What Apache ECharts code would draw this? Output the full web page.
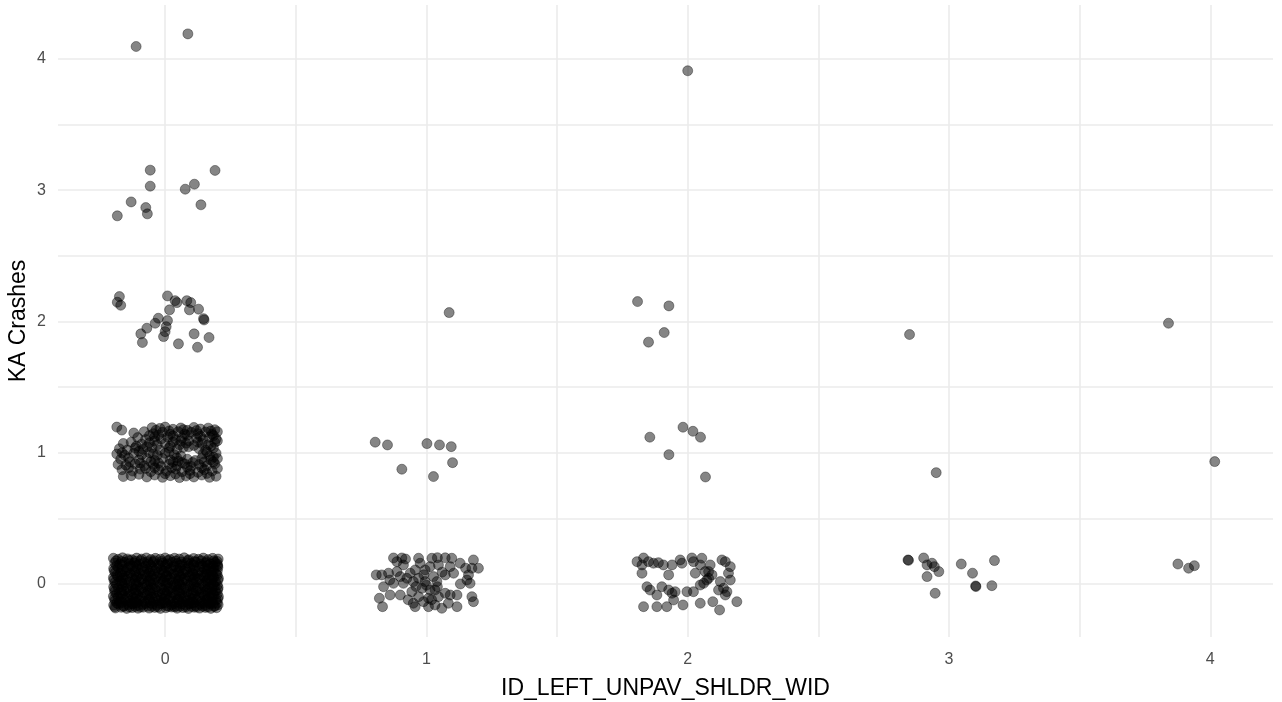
<!DOCTYPE html>
<html><head><meta charset="utf-8">
<script src="https://cdn.jsdelivr.net/npm/echarts@6/dist/echarts.min.js"></script>
<style>html,body{margin:0;padding:0;background:#fff}#c{width:1282px;height:702px}</style>
</head><body><div id="c"></div>
<script>
const xTicks = [0, 1, 2, 3, 4];
const yTicks = [0, 1, 2, 3, 4];
const xGridValues = [0, 0.5, 1, 1.5, 2, 2.5, 3, 3.5, 4];
const yGridValues = [0, 0.5, 1, 1.5, 2, 2.5, 3, 3.5, 4];
const xTitle = "ID_LEFT_UNPAV_SHLDR_WID";
const yTitle = "KA Crashes";

// x = 0, crashes = 0
const ptsX0Y0 = [
[-0.198,0.196],[-0.18,0.188],[-0.163,0.199],[-0.144,0.191],[-0.127,0.185],[-0.109,0.197],[-0.09,0.19],[-0.072,0.198],[-0.055,0.186],[-0.037,0.195],[-0.018,0.189],[0.0,0.198],[0.018,0.187],[0.036,0.196],[0.054,0.19],[0.073,0.199],[0.09,0.185],[0.109,0.194],[0.127,0.188],[0.146,0.197],[0.164,0.186],[0.182,0.195],[0.203,0.19],
[-0.193,0.16],[-0.174,0.152],[-0.155,0.165],[-0.137,0.155],[-0.118,0.161],[-0.1,0.15],[-0.081,0.163],[-0.063,0.154],[-0.046,0.166],[-0.027,0.151],[-0.009,0.16],[0.009,0.153],[0.027,0.165],[0.046,0.156],[0.064,0.149],[0.082,0.162],[0.1,0.155],[0.118,0.167],[0.137,0.151],[0.155,0.16],[0.173,0.153],[0.191,0.164],[0.2,0.15],
[-0.197,0.118],[-0.179,0.126],[-0.16,0.114],[-0.142,0.122],[-0.123,0.131],[-0.105,0.117],[-0.086,0.125],[-0.068,0.113],[-0.05,0.128],[-0.032,0.119],[-0.014,0.11],[0.005,0.124],[0.023,0.116],[0.041,0.129],[0.059,0.12],[0.078,0.112],[0.096,0.127],[0.114,0.118],[0.132,0.13],[0.15,0.115],[0.168,0.123],[0.187,0.111],[0.202,0.127],
[-0.191,0.085],[-0.172,0.078],[-0.154,0.092],[-0.135,0.081],[-0.117,0.088],[-0.098,0.076],[-0.08,0.09],[-0.061,0.083],[-0.043,0.075],[-0.025,0.089],[-0.006,0.08],[0.012,0.093],[0.031,0.077],[0.049,0.087],[0.068,0.079],[0.086,0.092],[0.104,0.082],[0.123,0.074],[0.141,0.088],[0.159,0.08],[0.177,0.091],[0.196,0.077],
[-0.198,0.048],[-0.18,0.055],[-0.161,0.043],[-0.143,0.057],[-0.125,0.046],[-0.107,0.052],[-0.088,0.04],[-0.07,0.058],[-0.052,0.045],[-0.033,0.053],[-0.015,0.041],[0.003,0.056],[0.021,0.047],[0.04,0.039],[0.058,0.054],[0.076,0.044],[0.094,0.058],[0.113,0.049],[0.131,0.041],[0.149,0.055],[0.167,0.046],[0.186,0.052],[0.204,0.043],
[-0.192,0.012],[-0.174,0.02],[-0.156,0.006],[-0.137,0.016],[-0.119,0.003],[-0.1,0.018],[-0.082,0.009],[-0.064,0.022],[-0.045,0.004],[-0.027,0.014],[-0.009,0.021],[0.01,0.007],[0.028,0.017],[0.047,0.002],[0.065,0.013],[0.083,0.021],[0.101,0.008],[0.12,0.016],[0.138,0.003],[0.156,0.019],[0.175,0.01],[0.193,0.018],
[-0.197,-0.022],[-0.179,-0.03],[-0.16,-0.017],[-0.142,-0.027],[-0.123,-0.034],[-0.105,-0.019],[-0.086,-0.028],[-0.068,-0.016],[-0.05,-0.031],[-0.031,-0.023],[-0.013,-0.035],[0.006,-0.02],[0.024,-0.029],[0.042,-0.015],[0.061,-0.026],[0.079,-0.033],[0.097,-0.018],[0.116,-0.027],[0.134,-0.036],[0.152,-0.021],[0.171,-0.03],[0.189,-0.017],[0.203,-0.028],
[-0.193,-0.058],[-0.175,-0.066],[-0.157,-0.053],[-0.138,-0.062],[-0.12,-0.07],[-0.101,-0.056],[-0.083,-0.064],[-0.065,-0.051],[-0.046,-0.068],[-0.028,-0.059],[-0.01,-0.072],[0.009,-0.055],[0.027,-0.063],[0.045,-0.05],[0.064,-0.067],[0.082,-0.06],[0.1,-0.071],[0.119,-0.054],[0.137,-0.065],[0.155,-0.057],[0.174,-0.069],[0.192,-0.052],
[-0.198,-0.094],[-0.18,-0.102],[-0.161,-0.088],[-0.143,-0.097],[-0.124,-0.105],[-0.106,-0.091],[-0.087,-0.099],[-0.069,-0.086],[-0.051,-0.103],[-0.032,-0.093],[-0.014,-0.107],[0.004,-0.09],[0.023,-0.098],[0.041,-0.085],[0.059,-0.101],[0.078,-0.095],[0.096,-0.108],[0.114,-0.089],[0.133,-0.1],[0.151,-0.092],[0.169,-0.104],[0.188,-0.087],[0.204,-0.097],
[-0.192,-0.128],[-0.174,-0.137],[-0.155,-0.122],[-0.137,-0.132],[-0.118,-0.14],[-0.1,-0.125],[-0.082,-0.134],[-0.063,-0.12],[-0.045,-0.138],[-0.026,-0.127],[-0.008,-0.142],[0.011,-0.124],[0.029,-0.133],[0.047,-0.119],[0.066,-0.136],[0.084,-0.129],[0.103,-0.141],[0.121,-0.123],[0.139,-0.134],[0.158,-0.126],[0.176,-0.139],[0.195,-0.121],
[-0.197,-0.161],[-0.178,-0.155],[-0.16,-0.168],[-0.141,-0.158],[-0.123,-0.152],[-0.104,-0.165],[-0.086,-0.157],[-0.067,-0.17],[-0.049,-0.154],[-0.031,-0.163],[-0.012,-0.151],[0.006,-0.166],[0.025,-0.159],[0.043,-0.171],[0.062,-0.153],[0.08,-0.162],[0.098,-0.15],[0.117,-0.167],[0.135,-0.156],[0.154,-0.164],[0.172,-0.152],[0.19,-0.169],[0.203,-0.158],
[-0.19,-0.183],[-0.168,-0.178],[-0.147,-0.186],[-0.126,-0.18],[-0.104,-0.185],[-0.083,-0.177],[-0.061,-0.184],[-0.04,-0.179],[-0.018,-0.186],[0.003,-0.181],[0.025,-0.176],[0.046,-0.185],[0.068,-0.18],[0.089,-0.187],[0.111,-0.178],[0.132,-0.184],[0.154,-0.179],[0.175,-0.186],[0.197,-0.181],
[-0.188,0.176],[-0.166,0.171],[-0.139,0.179],[-0.113,0.173],[-0.094,0.178],[-0.066,0.17],[-0.041,0.177],[-0.013,0.172],[0.011,0.179],[0.04,0.174],[0.062,0.168],[0.087,0.178],[0.113,0.171],[0.139,0.177],[0.158,0.17],[0.186,0.176],[0.199,0.172],
[-0.186,0.139],[-0.163,0.143],[-0.132,0.136],[-0.109,0.141],[-0.077,0.134],[-0.055,0.142],[-0.021,0.137],[0.002,0.144],[0.033,0.135],[0.056,0.14],[0.089,0.133],[0.109,0.142],[0.143,0.136],[0.162,0.141],[0.184,0.134],[0.201,0.139],
[-0.195,0.101],[-0.168,0.097],[-0.147,0.105],[-0.113,0.099],[-0.092,0.104],[-0.057,0.096],[-0.038,0.103],[-0.004,0.098],[0.018,0.106],[0.052,0.1],[0.072,0.095],[0.107,0.103],[0.127,0.097],[0.162,0.105],[0.18,0.099],[0.2,0.102],
[-0.185,0.067],[-0.164,0.062],[-0.131,0.07],[-0.111,0.064],[-0.075,0.068],[-0.056,0.061],[-0.02,0.069],[0.006,0.063],[0.035,0.07],[0.054,0.065],[0.09,0.061],[0.109,0.068],[0.145,0.062],[0.163,0.07],[0.181,0.064],[0.2,0.067],
[-0.196,0.031],[-0.167,0.027],[-0.149,0.034],[-0.114,0.029],[-0.093,0.035],[-0.058,0.026],[-0.039,0.032],[-0.003,0.028],[0.016,0.034],[0.052,0.026],[0.07,0.033],[0.107,0.029],[0.126,0.035],[0.161,0.027],[0.18,0.032],[0.202,0.029],
[-0.186,-0.004],[-0.165,0.001],[-0.13,-0.007],[-0.111,-0.002],[-0.076,-0.008],[-0.055,0.0],[-0.019,-0.005],[0.004,0.001],[0.034,-0.007],[0.055,-0.002],[0.089,-0.008],[0.11,-0.001],[0.145,-0.006],[0.163,0.0],[0.184,-0.004],[0.2,-0.009],
[-0.194,-0.041],[-0.167,-0.045],[-0.148,-0.038],[-0.114,-0.043],[-0.093,-0.037],[-0.057,-0.046],[-0.038,-0.04],[-0.003,-0.044],[0.016,-0.038],[0.053,-0.046],[0.071,-0.039],[0.107,-0.044],[0.125,-0.037],[0.161,-0.045],[0.18,-0.04],[0.201,-0.043],
[-0.186,-0.077],[-0.166,-0.072],[-0.131,-0.08],[-0.112,-0.074],[-0.076,-0.079],[-0.057,-0.073],[-0.02,-0.081],[0.003,-0.075],[0.034,-0.078],[0.054,-0.072],[0.089,-0.08],[0.108,-0.075],[0.144,-0.079],[0.164,-0.073],[0.183,-0.078],[0.2,-0.074],
[-0.194,-0.112],[-0.168,-0.116],[-0.148,-0.11],[-0.113,-0.114],[-0.094,-0.109],[-0.058,-0.117],[-0.037,-0.111],[-0.002,-0.115],[0.017,-0.11],[0.053,-0.118],[0.072,-0.112],[0.106,-0.116],[0.127,-0.11],[0.162,-0.117],[0.181,-0.111],[0.202,-0.114],
[-0.185,-0.146],[-0.165,-0.142],[-0.13,-0.149],[-0.11,-0.144],[-0.075,-0.148],[-0.056,-0.143],[-0.021,-0.15],[0.001,-0.145],[0.035,-0.148],[0.056,-0.142],[0.09,-0.149],[0.109,-0.144],[0.146,-0.147],[0.165,-0.143],[0.184,-0.148],[0.199,-0.144],
[-0.193,-0.174],[-0.158,-0.171],[-0.136,-0.175],[-0.114,-0.172],[-0.094,-0.176],[-0.051,-0.172],[-0.028,-0.175],[0.014,-0.171],[0.035,-0.174],[0.057,-0.17],[0.079,-0.175],[0.1,-0.172],[0.121,-0.176],[0.143,-0.171],[0.164,-0.175],[0.186,-0.172]
];

// x = 0, crashes = 1
const ptsX0Y1 = [
[-0.185,1.195],[-0.166,1.172],[-0.05,1.19],[-0.02,1.185],[0.0,1.195],[0.03,1.178],[0.06,1.188],[0.085,1.17],[0.11,1.192],[0.135,1.18],[0.165,1.187],[0.19,1.175],
[-0.12,1.15],[-0.08,1.16],[-0.045,1.145],[-0.01,1.155],[0.02,1.14],[0.05,1.16],[0.075,1.142],[0.1,1.155],[0.125,1.145],[0.155,1.158],[0.18,1.14],[0.2,1.16],
[-0.105,1.115],[-0.075,1.1],[-0.04,1.12],[-0.015,1.105],[0.01,1.118],[0.04,1.1],[0.065,1.112],[0.09,1.09],[0.12,1.11],[0.145,1.1],[0.17,1.118],[0.195,1.105],
[-0.16,1.07],[-0.13,1.08],[-0.09,1.065],[-0.06,1.075],[-0.03,1.06],[0.0,1.07],[0.03,1.082],[0.055,1.06],[0.08,1.072],[0.11,1.055],[0.14,1.07],[0.165,1.06],[0.19,1.078],
[-0.175,1.03],[-0.145,1.02],[-0.115,1.035],[-0.085,1.025],[-0.05,1.04],[-0.02,1.02],[0.015,1.035],[0.045,1.025],[0.07,1.04],[0.13,1.03],[0.155,1.02],[0.185,1.035],
[-0.185,0.99],[-0.155,0.98],[-0.12,0.995],[-0.09,0.985],[-0.06,1.0],[-0.03,0.98],[0.0,0.995],[0.035,0.985],[0.06,0.975],[0.145,0.99],[0.17,0.975],[0.195,0.995],
[-0.17,0.95],[-0.14,0.96],[-0.1,0.945],[-0.07,0.955],[-0.04,0.94],[-0.01,0.955],[0.02,0.945],[0.05,0.935],[0.085,0.95],[0.115,0.94],[0.14,0.955],[0.175,0.945],[0.2,0.955],
[-0.18,0.91],[-0.15,0.905],[-0.115,0.915],[-0.08,0.9],[-0.045,0.91],[-0.015,0.895],[0.015,0.912],[0.045,0.9],[0.075,0.915],[0.1,0.895],[0.13,0.91],[0.16,0.9],[0.19,0.915],
[-0.165,0.87],[-0.125,0.86],[-0.095,0.875],[-0.055,0.855],[-0.025,0.87],[0.005,0.86],[0.04,0.875],[0.065,0.855],[0.095,0.865],[0.125,0.85],[0.15,0.87],[0.18,0.86],
[-0.16,0.818],[-0.13,0.825],[-0.07,0.815],[-0.04,0.83],[-0.01,0.812],[0.02,0.825],[0.055,0.81],[0.08,0.822],[0.11,0.815],[0.14,0.83],[0.17,0.812],[0.195,0.82],
[-0.035,1.17],[0.015,1.165],[0.07,1.175],[0.12,1.168],[0.175,1.165],[-0.06,1.13],[-0.025,1.135],[0.03,1.128],[0.085,1.132],[0.135,1.125],[0.185,1.13],
[-0.11,1.05],[-0.07,1.045],[-0.04,1.09],[0.02,1.05],[0.06,1.09],[0.09,1.045],[0.125,1.08],[0.175,1.05],[0.2,1.09],
[-0.165,1.0],[-0.1,1.01],[-0.045,0.99],[0.015,1.005],[0.045,0.96],[0.16,1.005],[0.185,0.965],
[-0.135,0.93],[-0.095,0.92],[-0.055,0.93],[-0.025,0.92],[0.03,0.93],[0.065,0.925],[0.105,0.925],[0.15,0.93],[0.185,0.93],
[-0.14,0.885],[-0.075,0.88],[-0.04,0.885],[0.025,0.885],[0.085,0.89],[0.14,0.885],[0.2,0.88],
[-0.1,0.835],[0.0,0.84],[0.04,0.838],[0.095,0.84],[0.16,0.842]
];

// x = 0, crashes = 2, 3, 4
const ptsX0High = [
[-0.175,2.189],[-0.183,2.146],[-0.17,2.123],[0.009,2.194],[0.038,2.158],[0.045,2.143],[0.017,2.088],[0.083,2.158],[0.098,2.143],[0.093,2.088],[0.128,2.093],[0.147,2.021],[0.149,2.011],[-0.026,2.024],[-0.038,1.986],[0.009,2.006],[0.004,1.96],[0.0,1.922],[-0.006,1.884],[-0.07,1.948],[-0.093,1.905],[-0.087,1.839],[0.051,1.829],[0.111,1.905],[0.168,1.877],[0.124,1.803],
[-0.057,3.152],[-0.057,3.03],[0.191,3.15],[0.112,3.045],[0.077,3.007],[-0.13,2.91],[-0.074,2.867],[-0.068,2.819],[0.137,2.888],[-0.183,2.804],
[-0.111,4.094],[0.087,4.19]
];

// x = 1
const ptsX1 = [
[0.874,0.198],[0.906,0.198],[0.887,0.17],[0.912,0.145],[0.97,0.196],[0.976,0.158],[1.021,0.196],[1.042,0.2],[1.072,0.199],[1.097,0.196],[1.129,0.158],[1.18,0.183],[1.174,0.12],[1.199,0.12],[1.091,0.132],[1.104,0.082],[1.072,0.069],[1.046,0.145],[1.014,0.132],[0.995,0.107],[0.957,0.107],[0.938,0.082],[0.887,0.094],[0.855,0.082],[0.808,0.069],[0.829,0.069],[0.874,0.005],[0.912,0.005],[0.836,-0.021],[0.95,0.018],[0.97,0.043],[0.995,0.018],[1.04,0.018],[1.042,-0.021],[1.014,-0.046],[0.983,-0.033],[0.944,-0.059],[0.9,-0.084],[0.861,-0.084],[0.82,-0.109],[0.832,-0.173],[0.95,-0.147],[0.989,-0.135],[1.008,-0.173],[1.033,-0.16],[1.059,-0.185],[1.084,-0.147],[1.117,-0.173],[1.091,-0.084],[1.117,-0.084],[1.072,-0.071],[1.046,-0.097],[1.155,0.03],[1.167,0.005],[1.161,0.069],[1.174,-0.097],[1.18,-0.135],[1.027,0.056],[1.008,-0.109],[0.97,-0.097],[0.925,0.043],[0.9,0.056],[1.033,-0.046],[0.957,-0.173],
[0.99,0.07],[1.0,-0.01],[0.96,-0.02],[1.02,-0.12],[0.93,-0.12],[1.06,0.09],[1.15,0.12],[1.13,0.0],[0.86,0.03],[0.92,0.19],
[1.087,2.067],[0.804,1.08],[0.851,1.059],[1.002,1.069],[1.05,1.059],[1.095,1.046],[1.1,0.924],[0.906,0.874],[1.027,0.818]
];

// x = 2
const ptsX2 = [
[1.806,0.17],[1.831,0.198],[1.825,0.145],[1.825,0.082],[1.85,0.17],[1.869,0.158],[1.888,0.162],[1.907,0.145],[1.94,0.145],[1.927,0.069],[1.971,0.183],[1.978,0.158],[2.016,0.198],[2.022,0.17],[2.054,0.196],[2.048,0.145],[2.029,0.082],[2.086,0.145],[2.08,0.094],[2.093,0.069],[2.073,0.03],[2.061,0.005],[2.048,-0.008],[2.131,0.183],[2.144,0.17],[2.163,0.132],[2.156,0.082],[2.163,0.03],[2.125,0.018],[2.118,-0.046],[2.137,-0.033],[2.15,-0.059],[2.144,-0.084],[2.188,-0.135],[1.844,-0.021],[1.856,-0.046],[1.882,-0.084],[1.901,-0.021],[1.927,-0.046],[1.94,-0.071],[1.952,-0.059],[1.946,-0.122],[1.997,-0.059],[2.022,-0.059],[1.831,-0.173],[1.882,-0.173],[1.92,-0.173],[1.982,-0.16],[2.048,-0.147],[2.096,-0.135],[2.122,-0.198],[2.08,0.043],[2.067,0.094],
[1.808,2.151],[1.928,2.118],[1.91,1.915],[1.85,1.842],[1.982,1.194],[2.02,1.163],[2.049,1.118],[1.855,1.118],[1.928,0.985],[2.068,0.815],[2.0,3.909]
];

// x = 3
const ptsX3 = [
[2.849,1.9],[2.951,0.848],
[2.843,0.183],[2.845,0.18],[2.903,0.198],[2.916,0.145],[2.935,0.158],[2.944,0.132],[2.961,0.094],[2.916,0.056],[2.947,-0.071],[3.047,0.152],[3.09,0.082],[3.174,0.178],[3.102,-0.015],[3.103,-0.02],[3.164,-0.013]
];

// x = 4
const ptsX4 = [
[3.84,1.986],[4.017,0.932],[3.876,0.152],[3.917,0.12],[3.939,0.139]
];

const allPoints = [].concat(ptsX0Y0, ptsX0Y1, ptsX0High, ptsX1, ptsX2, ptsX3, ptsX4);

const chart = echarts.init(document.getElementById('c'), null, {renderer: 'canvas'});
const gridLineStyle = {color: '#ebebeb', width: 1.6, type: 'solid'};
const fontFam = 'Liberation Sans, Arial, sans-serif';
chart.setOption({
  animation: false,
  backgroundColor: '#ffffff',
  grid: {left: 58, right: 9, top: 5, bottom: 65, containLabel: false, outerBoundsMode: 'none'},
  xAxis: {
    type: 'value', min: -0.41, max: 4.24,
    name: xTitle, nameLocation: 'middle', nameGap: 40,
    nameTextStyle: {color: '#000', fontSize: 23, fontFamily: fontFam},
    axisLine: {show: false}, axisTick: {show: false}, splitLine: {show: false},
    axisLabel: {customValues: xTicks, color: '#4d4d4d', fontSize: 16, margin: 15, fontFamily: fontFam}
  },
  yAxis: {
    type: 'value', min: -0.404, max: 4.41,
    name: yTitle, nameLocation: 'middle', nameGap: 28, nameRotate: 90, nameMoveOverlap: false,
    nameTextStyle: {color: '#000', fontSize: 23, fontFamily: fontFam},
    axisLine: {show: false}, axisTick: {show: false}, splitLine: {show: false},
    axisLabel: {customValues: yTicks, color: '#4d4d4d', fontSize: 16, margin: 12, fontFamily: fontFam}
  },
  series: [
    {
      type: 'scatter', data: [], z: 1, silent: true,
      markLine: {
        silent: true, symbol: ['none', 'none'], label: {show: false}, animation: false, z: 1,
        lineStyle: gridLineStyle,
        data: xGridValues.map(v => ({xAxis: v})).concat(yGridValues.map(v => ({yAxis: v})))
      }
    },
    {
      type: 'scatter', data: allPoints, z: 10, symbol: 'circle', symbolSize: 10,
      large: false, progressive: 0,
      itemStyle: {color: 'rgba(0,0,0,0.6)', borderColor: 'rgba(0,0,0,0.45)', borderWidth: 1}
    }
  ]
});
</script>
</body></html>
